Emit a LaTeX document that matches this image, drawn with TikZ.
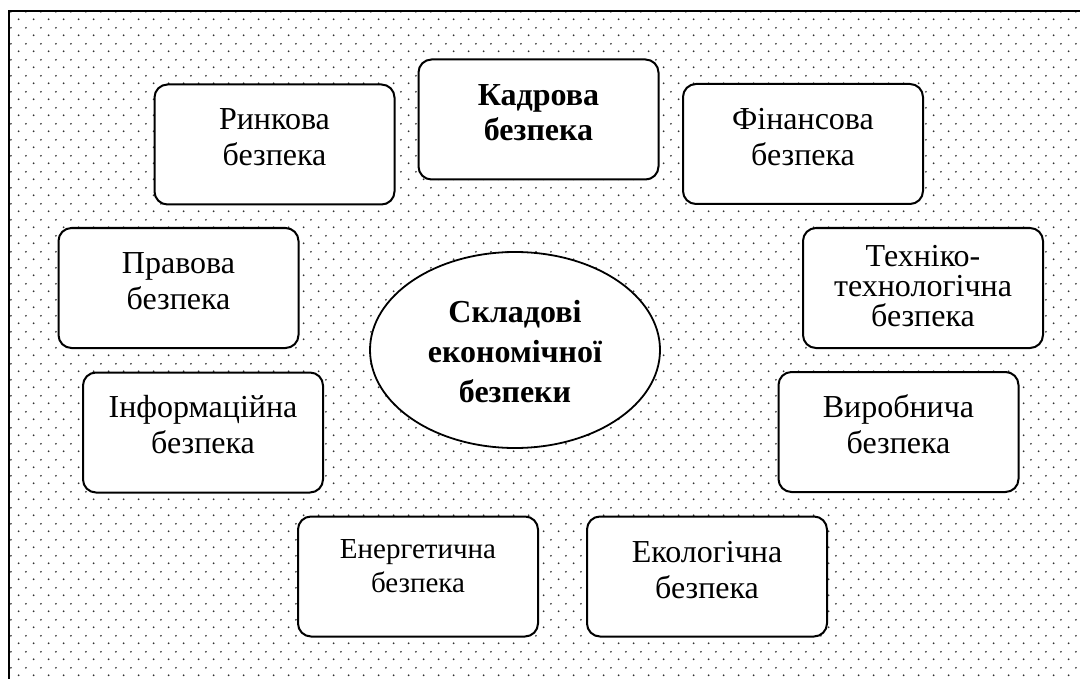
\documentclass[tikz,border=0pt]{standalone}
\usepackage{fontspec}
\setmainfont{Liberation Serif}
\usetikzlibrary{shapes.geometric,patterns}
\pgfdeclarepatternformonly{stagdots}{\pgfpointorigin}{\pgfpoint{7.65pt}{7.75pt}}{\pgfpoint{7.65pt}{7.75pt}}{%
  \pgfpathcircle{\pgfpoint{1.9pt}{1.9pt}}{0.5pt}%
  \pgfpathcircle{\pgfpoint{5.725pt}{5.775pt}}{0.5pt}%
  \pgfusepath{fill}}
\tikzset{
  box/.style={draw=black, line width=1pt, fill=white, rounded corners=6.5pt,
    minimum width=120pt, minimum height=60pt, inner sep=0pt},
  txt/.style={align=center, inner sep=0pt, font=\fontsize{16}{18}\selectfont},
  core/.style={draw=black, line width=0.9pt, fill=white, ellipse,
    minimum width=145pt, minimum height=98pt, inner sep=0pt},
}
\begin{document}
\begin{tikzpicture}[x=0.5pt,y=-0.5pt]
\useasboundingbox (0,0) rectangle (1080,679);
\fill[pattern=stagdots, pattern color=black!80] (9,11) rectangle (1092,692);
\draw[line width=1.3pt] (9,692) -- (9,11) -- (1092,11);

\node[box] (kadr) at (538.5,119.5) {};
\node[box] (rynk) at (274.5,144.5) {};
\node[box] (fin) at (803,144) {};
\node[box] (prav) at (178.5,288) {};
\node[box] (tech) at (923,288) {};
\node[box] (inf) at (203,432.5) {};
\node[box] (vyr) at (898.5,432) {};
\node[box] (ener) at (418,576.5) {};
\node[box] (ekol) at (707,576.5) {};
\node[core] (core) at (515,350) {};

\node[txt, font=\bfseries\fontsize{16}{17.5}\selectfont] (kadrt) at ([yshift=3.5pt]kadr.center) {Кадрова\\безпека};
\node[txt] (rynkt) at ([yshift=3.5pt]rynk.center) {Ринкова\\безпека};
\node[txt] (fint) at ([yshift=3.5pt]fin.center) {Фінансова\\безпека};
\node[txt] (pravt) at ([yshift=3.5pt]prav.center) {Правова\\безпека};
\node[txt, font=\fontsize{16}{15}\selectfont] (techt) at ([yshift=1pt]tech.center) {Техніко-\\технологічна\\безпека};
\node[txt] (inft) at ([yshift=4pt]inf.center) {Інформаційна\\безпека};
\node[txt] (vyrt) at ([yshift=4pt]vyr.center) {Виробнича\\безпека};
\node[txt, font=\fontsize{14.5}{17}\selectfont] (enert) at ([yshift=5pt]ener.center) {Енергетична\\безпека};
\node[txt] (ekolt) at ([yshift=3pt]ekol.center) {Екологічна\\безпека};
\node[txt, font=\bfseries\fontsize{16}{20}\selectfont] (coret) at ([yshift=-1pt]core.center) {Складові\\економічної\\безпеки};
\end{tikzpicture}
\end{document}
